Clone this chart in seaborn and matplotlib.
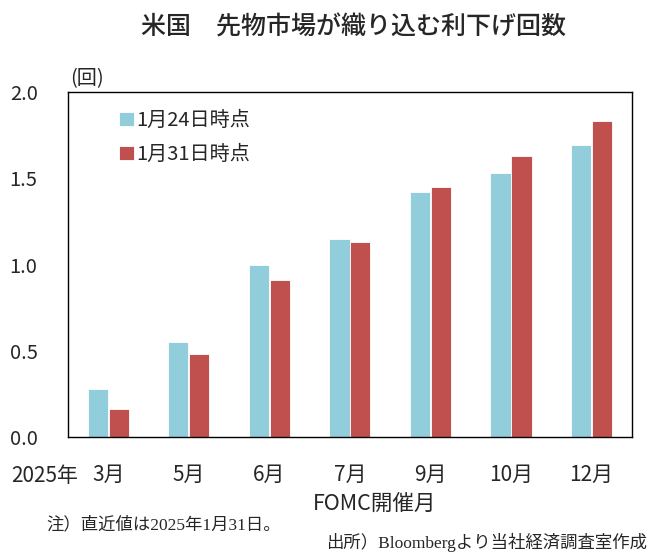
import matplotlib
matplotlib.use("Agg")
import matplotlib.pyplot as plt
import pandas as pd
import seaborn as sns

# data
months = ["3月", "5月", "6月", "7月", "9月", "10月", "12月"]
cuts_jan24 = [0.28, 0.55, 1.00, 1.15, 1.42, 1.53, 1.69]
cuts_jan31 = [0.16, 0.48, 0.91, 1.13, 1.45, 1.63, 1.83]
series = ["1月24日時点", "1月31日時点"]
colors = ["#92CDDC", "#C0504D"]

sns.set_theme(style="white")
plt.rcParams["font.family"] = ["Noto Sans CJK JP", "DejaVu Sans"]

df = pd.DataFrame({
    "month": months * 2,
    "value": cuts_jan24 + cuts_jan31,
    "series": [series[0]] * len(months) + [series[1]] * len(months),
})

fig = plt.figure(figsize=(6.48, 5.52), dpi=100)
ax = fig.add_axes([0.105, 0.2083, 0.87, 0.625])

sns.barplot(data=df, x="month", y="value", hue="series", order=months,
            hue_order=series, palette=colors, width=0.52, gap=0.04,
            edgecolor="white", linewidth=0.6, saturation=1, ax=ax)

ax.set_ylim(0, 2.0)
ax.set_yticks([0, 0.5, 1.0, 1.5, 2.0])
ax.set_yticklabels([f"{v:.1f}" for v in [0, 0.5, 1.0, 1.5, 2.0]], fontsize=14.5)
ax.tick_params(axis="y", direction="in", length=5, width=1, color="black", pad=42)
ax.tick_params(axis="x", length=0, labelsize=15, pad=19)
for lab in ax.get_yticklabels():
    lab.set_horizontalalignment("left")
ax.set_xlim(-0.5, len(months) - 0.5)
ax.set_ylabel("")
ax.set_xlabel("FOMC開催月", fontsize=15.5)
ax.xaxis.set_label_coords(0.543, -0.161)
for s in ax.spines.values():
    s.set_visible(True)
    s.set_color("black")
    s.set_linewidth(1.0)

leg = ax.legend(loc="upper left", bbox_to_anchor=(0.059, 1.0), frameon=False,
                fontsize=14.5, handlelength=0.7, handleheight=0.7,
                handletextpad=0.15, labelspacing=0.62)

fig.text(0.108, 0.848, "(回)", fontsize=14.5)
fig.text(0.017, 0.137, "2025年", fontsize=15, va="center")
fig.text(0.545, 0.951, "米国　先物市場が織り込む利下げ回数", fontsize=18,
         ha="center", va="center", fontweight="medium")
fig.text(0.072, 0.049, "注）直近値は2025年1月31日。", fontsize=12.5, va="center",
         family=["Liberation Serif", "Noto Sans CJK JP"])
fig.text(0.999, 0.018, "出所）Bloombergより当社経済調査室作成", fontsize=12.5,
         ha="right", va="center", family=["Liberation Serif", "Noto Sans CJK JP"])

fig.savefig("out.png", dpi=100)
